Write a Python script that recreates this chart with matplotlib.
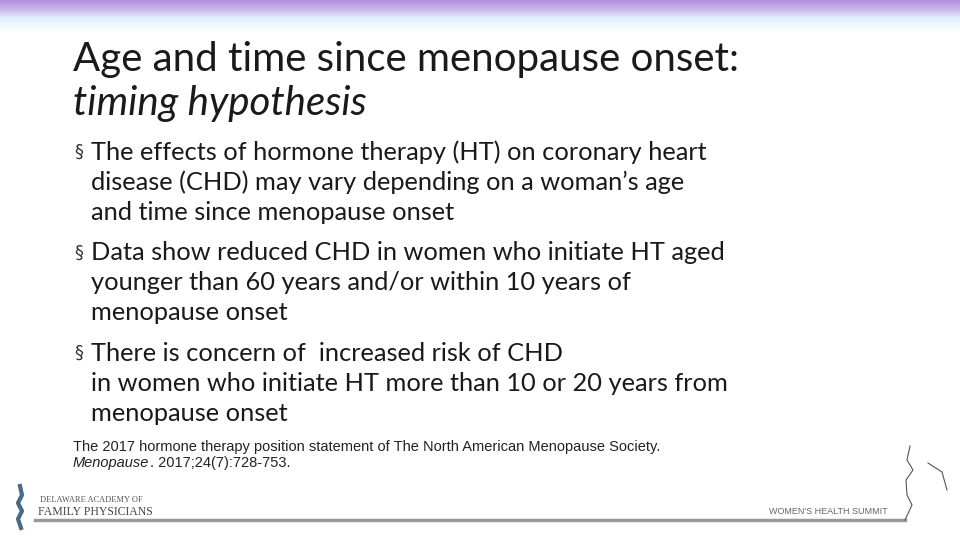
import matplotlib
matplotlib.use("Agg")
import matplotlib.pyplot as plt
import numpy as np
from matplotlib.colors import LinearSegmentedColormap

title_lines = ["Age and time since menopause onset:", "timing hypothesis"]
bullets = [
    ["The effects of hormone therapy (HT) on coronary heart",
     "disease (CHD) may vary depending on a woman’s age",
     "and time since menopause onset"],
    ["Data show reduced CHD in women who initiate HT aged",
     "younger than 60 years and/or within 10 years of",
     "menopause onset"],
    ["There is concern of  increased risk of CHD",
     "in women who initiate HT more than 10 or 20 years from",
     "menopause onset"],
]
citation = ["The 2017 hormone therapy position statement of The North American Menopause Society.",
            "Menopause", ". 2017;24(7):728-753."]

fig = plt.figure(figsize=(9.6, 5.4), dpi=100)
ax = fig.add_axes([0, 0, 1, 1])
ax.set_xlim(0, 960); ax.set_ylim(540, 0); ax.axis("off")

cmap = LinearSegmentedColormap.from_list("g", [(0, "#b48fdc"), (0.3, "#cdb8ec"), (0.55, "#ddeefc"), (1, "#ffffff")])
grad = np.linspace(0, 1, 100).reshape(-1, 1)
ax.imshow(grad, extent=[0, 960, 32, 0], aspect="auto", cmap=cmap, zorder=0)

fam = "Lato"
ax.text(73, 60, title_lines[0], fontsize=29, family=fam, color="#1a1a1a", va="center")
ax.text(73, 104, title_lines[1], fontsize=29, family=fam, style="italic", color="#1a1a1a", va="center")

y = 152
dy = 30.2
for b in bullets:
    ax.text(74, y, "§", fontsize=13, family="DejaVu Sans", color="#333333", va="center")
    for line in b:
        ax.text(91, y, line, fontsize=18.3, family=fam, color="#1a1a1a", va="center")
        y += dy
    y += 10

cf = 10.5
ax.text(73, 447, citation[0], fontsize=cf, family="Liberation Sans", color="#222222", va="center")
t = ax.text(73, 463, citation[1], fontsize=cf, family="Liberation Sans", style="italic", color="#222222", va="center")
fig.canvas.draw()
bb = t.get_window_extent()
ax.text(bb.x1 + 1, 463, citation[2], fontsize=cf, family="Liberation Sans", color="#222222", va="center")

ax.plot([35, 905], [520, 520], color="#999999", lw=2.5)
ax.text(40, 500, "DELAWARE ACADEMY OF", fontsize=6, family="Liberation Serif", color="#555555", va="center")
ax.text(38, 512, "FAMILY PHYSICIANS", fontsize=8.5, family="Liberation Serif", color="#444444", va="center")
ax.text(888, 512, "WOMEN'S HEALTH SUMMIT", fontsize=6.5, family="Liberation Sans", color="#666666", va="center", ha="right")
ax.plot([20, 22, 18, 22, 18, 21], [486, 495, 503, 511, 519, 528], color="#4a6a85", lw=3)
ax.plot([910, 907, 913, 906, 907, 912, 905], [446, 460, 470, 480, 495, 505, 520], color="#555555", lw=0.8)
ax.plot([928, 942, 947], [463, 472, 490], color="#555555", lw=0.8)

fig.savefig("out.png", dpi=100)
